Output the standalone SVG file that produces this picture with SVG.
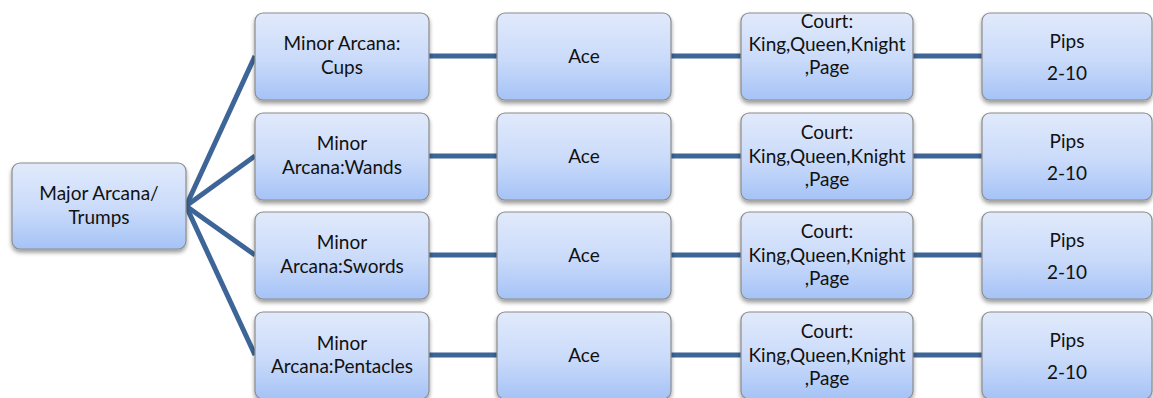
<svg xmlns="http://www.w3.org/2000/svg" width="1153" height="398" viewBox="0 0 1153 398">
  <style>
    .box { fill: url(#boxFill); stroke: #8c8c8c; stroke-width: 1.2; filter: url(#shadow); }
    .label { font-family: Lato, "Open Sans", sans-serif; font-size: 19px; fill: #111; text-anchor: middle; }
    .link { stroke: #3d6597; stroke-width: 5; fill: none; }
  </style>
  <defs>
    <linearGradient id="boxFill" x1="0" y1="0" x2="0" y2="1">
      <stop offset="0" stop-color="#e1eafb"/>
      <stop offset="0.55" stop-color="#c9dafa"/>
      <stop offset="1" stop-color="#a5c3f6"/>
    </linearGradient>
    <filter id="shadow" x="-10%" y="-10%" width="120%" height="130%">
      <feGaussianBlur in="SourceAlpha" stdDeviation="2"/>
      <feOffset dx="0" dy="2.5" result="b"/>
      <feComponentTransfer><feFuncA type="linear" slope="0.4"/></feComponentTransfer>
      <feMerge><feMergeNode/><feMergeNode in="SourceGraphic"/></feMerge>
    </filter>
  </defs>
  <rect width="1153" height="398" fill="#ffffff"/>

  <!-- connectors -->
  <g id="connectors">
    <line class="link" x1="186" y1="206" x2="255" y2="56"/>
    <line class="link" x1="186" y1="206" x2="255" y2="156"/>
    <line class="link" x1="186" y1="206" x2="255" y2="255"/>
    <line class="link" x1="186" y1="206" x2="255" y2="355"/>
    <line class="link" x1="429" y1="56" x2="497" y2="56"/>
    <line class="link" x1="671" y1="56" x2="741" y2="56"/>
    <line class="link" x1="913" y1="56" x2="982" y2="56"/>
    <line class="link" x1="429" y1="156" x2="497" y2="156"/>
    <line class="link" x1="671" y1="156" x2="741" y2="156"/>
    <line class="link" x1="913" y1="156" x2="982" y2="156"/>
    <line class="link" x1="429" y1="255" x2="497" y2="255"/>
    <line class="link" x1="671" y1="255" x2="741" y2="255"/>
    <line class="link" x1="913" y1="255" x2="982" y2="255"/>
    <line class="link" x1="429" y1="355" x2="497" y2="355"/>
    <line class="link" x1="671" y1="355" x2="741" y2="355"/>
    <line class="link" x1="913" y1="355" x2="982" y2="355"/>
  </g>

  <!-- root -->
  <g id="major">
    <rect class="box" x="12" y="163" width="174" height="86" rx="8"/>
    <text class="label" x="99" y="200">Major Arcana/</text>
    <text class="label" x="99" y="224">Trumps</text>
  </g>

  <!-- row 1 -->
  <g id="cups">
    <rect class="box" x="255" y="13" width="174" height="87" rx="8"/>
    <text class="label" x="342" y="50">Minor Arcana:</text>
    <text class="label" x="342" y="74">Cups</text>
  </g>
  <g id="cups-ace">
    <rect class="box" x="497" y="13" width="174" height="87" rx="8"/>
    <text class="label" x="584" y="63">Ace</text>
  </g>
  <g id="cups-court">
    <rect class="box" x="741" y="13" width="172" height="87" rx="8"/>
    <text class="label" x="827" y="28">Court:</text>
    <text class="label" x="827" y="51">King,Queen,Knight</text>
    <text class="label" x="827" y="74">,Page</text>
  </g>
  <g id="cups-pips">
    <rect class="box" x="982" y="13" width="170" height="87" rx="8"/>
    <text class="label" x="1067" y="48">Pips</text>
    <text class="label" x="1067" y="80">2-10</text>
  </g>

  <!-- row 2 -->
  <g id="wands">
    <rect class="box" x="255" y="113" width="174" height="87" rx="8"/>
    <text class="label" x="342" y="150">Minor</text>
    <text class="label" x="342" y="174">Arcana:Wands</text>
  </g>
  <g id="wands-ace">
    <rect class="box" x="497" y="113" width="174" height="87" rx="8"/>
    <text class="label" x="584" y="163">Ace</text>
  </g>
  <g id="wands-court">
    <rect class="box" x="741" y="113" width="172" height="87" rx="8"/>
    <text class="label" x="827" y="139">Court:</text>
    <text class="label" x="827" y="163">King,Queen,Knight</text>
    <text class="label" x="827" y="186">,Page</text>
  </g>
  <g id="wands-pips">
    <rect class="box" x="982" y="113" width="170" height="87" rx="8"/>
    <text class="label" x="1067" y="148">Pips</text>
    <text class="label" x="1067" y="180">2-10</text>
  </g>

  <!-- row 3 -->
  <g id="swords">
    <rect class="box" x="255" y="212" width="174" height="87" rx="8"/>
    <text class="label" x="342" y="249">Minor</text>
    <text class="label" x="342" y="273">Arcana:Swords</text>
  </g>
  <g id="swords-ace">
    <rect class="box" x="497" y="212" width="174" height="87" rx="8"/>
    <text class="label" x="584" y="262">Ace</text>
  </g>
  <g id="swords-court">
    <rect class="box" x="741" y="212" width="172" height="87" rx="8"/>
    <text class="label" x="827" y="238">Court:</text>
    <text class="label" x="827" y="262">King,Queen,Knight</text>
    <text class="label" x="827" y="285">,Page</text>
  </g>
  <g id="swords-pips">
    <rect class="box" x="982" y="212" width="170" height="87" rx="8"/>
    <text class="label" x="1067" y="247">Pips</text>
    <text class="label" x="1067" y="279">2-10</text>
  </g>

  <!-- row 4 -->
  <g id="pentacles">
    <rect class="box" x="255" y="312" width="174" height="87" rx="8"/>
    <text class="label" x="342" y="350">Minor</text>
    <text class="label" x="342" y="373">Arcana:Pentacles</text>
  </g>
  <g id="pentacles-ace">
    <rect class="box" x="497" y="312" width="174" height="87" rx="8"/>
    <text class="label" x="584" y="362">Ace</text>
  </g>
  <g id="pentacles-court">
    <rect class="box" x="741" y="312" width="172" height="87" rx="8"/>
    <text class="label" x="827" y="338">Court:</text>
    <text class="label" x="827" y="362">King,Queen,Knight</text>
    <text class="label" x="827" y="385">,Page</text>
  </g>
  <g id="pentacles-pips">
    <rect class="box" x="982" y="312" width="170" height="87" rx="8"/>
    <text class="label" x="1067" y="347">Pips</text>
    <text class="label" x="1067" y="379">2-10</text>
  </g>
</svg>
